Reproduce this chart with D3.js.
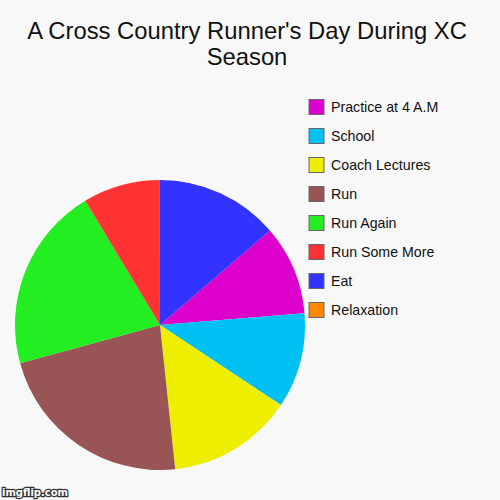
<!DOCTYPE html>
<html>
<head>
<meta charset="utf-8">
<script src="https://cdn.jsdelivr.net/npm/d3@7"></script>
<style>
  body { margin: 0; background: #f8f8f8; }
  svg { display: block; }
</style>
</head>
<body>
<script>
    // data (share of the day, percent)
    var categories = ["Practice at 4 A.M", "School", "Coach Lectures", "Run", "Run Again", "Run Some More", "Eat", "Relaxation"]
    var values = [10.0, 10.6, 14.0, 22.4, 20.6, 8.6, 13.7, 0]
    var colors = ["#dd00cc", "#00bff3", "#eeee00", "#995555", "#22ee22", "#ff3333", "#3333ff", "#ff8800"]
    var titleLines = ["A Cross Country Runner's Day During XC", "Season"]

    var width = 500, height = 500
    var cx = 160, cy = 325, radius = 145
    var startOffset = 49.3 * Math.PI / 180

    var svg = d3.select("body")
        .append("svg")
        .attr("width", width)
        .attr("height", height)
        .style("background", "#f8f8f8")

    svg.selectAll(".title")
        .data(titleLines)
        .enter()
        .append("text")
        .attr("class", "title")
        .attr("x", 247)
        .attr("y", function (d, i) { return 39 + i * 26 })
        .attr("text-anchor", "middle")
        .attr("font-family", "Liberation Sans, Arial, sans-serif")
        .attr("font-size", "23.8px")
        .attr("fill", "#111")
        .text(function (d) { return d })

    var pie = d3.pie()
        .sort(null)
        .value(function (d) { return d })
        .startAngle(startOffset)
        .endAngle(startOffset + 2 * Math.PI)

    var arc = d3.arc().innerRadius(0).outerRadius(radius)

    svg.append("g")
        .attr("transform", "translate(" + cx + "," + cy + ")")
        .selectAll("path")
        .data(pie(values))
        .enter()
        .append("path")
        .attr("d", arc)
        .attr("fill", function (d, i) { return colors[i] })

    var legend = svg.selectAll(".legend")
        .data(categories)
        .enter()
        .append("g")
        .attr("class", "legend")
        .attr("transform", function (d, i) { return "translate(309," + (99.5 + i * 29) + ")" })

    legend.append("rect")
        .attr("width", 15)
        .attr("height", 15)
        .attr("fill", function (d, i) { return colors[i] })
        .attr("stroke", "#666")
        .attr("stroke-width", 1)

    legend.append("text")
        .attr("x", 22)
        .attr("y", 12.5)
        .attr("font-family", "Liberation Sans, Arial, sans-serif")
        .attr("font-size", "14.2px")
        .attr("fill", "#111")
        .text(function (d) { return d })

    // watermark
    svg.append("text")
        .attr("x", 2)
        .attr("y", 496)
        .attr("font-family", "DejaVu Sans, sans-serif")
        .attr("font-weight", "bold")
        .attr("font-size", "10px")
        .attr("fill", "#fff")
        .attr("stroke", "#333")
        .attr("stroke-width", 2.5)
        .attr("paint-order", "stroke")
        .text("imgflip.com")
</script>
</body>
</html>
